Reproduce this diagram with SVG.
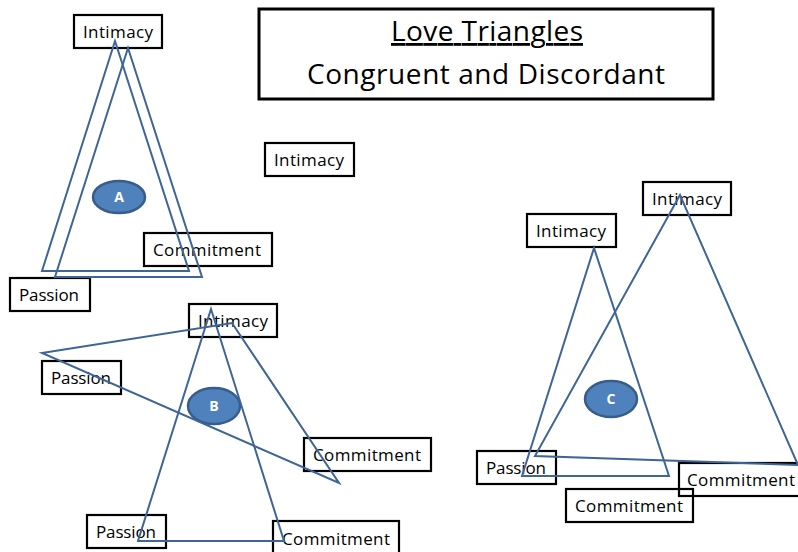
<svg xmlns="http://www.w3.org/2000/svg" width="798" height="552" viewBox="0 0 798 552">
<style>
.box{fill:none;stroke:#000;stroke-width:2.2}
.lbl{font-family:"Open Sans","Liberation Sans",sans-serif;font-size:17px;fill:#000;text-anchor:middle}
.tri{fill:none;stroke:#3d6596;stroke-width:2;stroke-linejoin:miter}
.oval{fill:#4f81bd;stroke:#385d8a;stroke-width:2.5}
.olbl{font-family:"Open Sans","Liberation Sans",sans-serif;font-size:14px;font-weight:bold;fill:#fff;text-anchor:middle}
.title{font-family:"Open Sans","Liberation Sans",sans-serif;font-size:28px;fill:#000;text-anchor:middle}
</style>
<rect width="798" height="552" fill="#fff"/>
<g id="title">
<rect x="259" y="9" width="454" height="90" fill="none" stroke="#000" stroke-width="3"/>
<text class="title" x="487" y="41" text-decoration="underline" textLength="192">Love Triangles</text>
<text class="title" x="486" y="84" textLength="358">Congruent and Discordant</text>
</g>
<g id="nodeA">
<g id="a-intimacy"><rect class="box" x="74" y="15" width="88" height="33"/><text class="lbl" x="118" y="38" textLength="70">Intimacy</text></g>
<g id="a-commitment"><rect class="box" x="144" y="233" width="128" height="33"/><text class="lbl" x="207" y="256" textLength="108">Commitment</text></g>
<g id="a-passion"><rect class="box" x="10" y="278" width="80" height="33"/><text class="lbl" x="49" y="301" textLength="60">Passion</text></g>
<g id="a-oval"><ellipse class="oval" cx="119" cy="197" rx="26" ry="16"/><text class="olbl" x="119" y="202">A</text></g>
</g>
<g id="free-intimacy"><rect class="box" x="265" y="143" width="89" height="33"/><text class="lbl" x="309" y="166" textLength="70">Intimacy</text></g>
<g id="nodeB">
<g id="b-intimacy"><rect class="box" x="189" y="304" width="88" height="33"/><text class="lbl" x="233" y="327" textLength="70">Intimacy</text></g>
<g id="b-passion1"><rect class="box" x="42" y="361" width="79" height="33"/><text class="lbl" x="81" y="384" textLength="60">Passion</text></g>
<g id="b-commitment1"><rect class="box" x="304" y="438" width="127" height="33"/><text class="lbl" x="367" y="461" textLength="108">Commitment</text></g>
<g id="b-passion2"><rect class="box" x="87" y="515" width="79" height="33"/><text class="lbl" x="126" y="538" textLength="60">Passion</text></g>
<g id="b-commitment2"><rect class="box" x="273" y="521" width="126" height="33"/><text class="lbl" x="336" y="545" textLength="108">Commitment</text></g>
<g id="b-oval"><ellipse class="oval" cx="214" cy="406" rx="26" ry="18"/><text class="olbl" x="214" y="411">B</text></g>
</g>
<g id="nodeC">
<g id="c-intimacy1"><rect class="box" x="527" y="214" width="89" height="33"/><text class="lbl" x="571" y="237" textLength="70">Intimacy</text></g>
<g id="c-intimacy2"><rect class="box" x="643" y="182" width="88" height="33"/><text class="lbl" x="687" y="205" textLength="70">Intimacy</text></g>
<g id="c-passion"><rect class="box" x="477" y="451" width="79" height="33"/><text class="lbl" x="516" y="474" textLength="60">Passion</text></g>
<g id="c-commitment1"><rect class="box" x="566" y="489" width="127" height="33"/><text class="lbl" x="629" y="512" textLength="108">Commitment</text></g>
<g id="c-commitment2"><rect class="box" x="679" y="463" width="127" height="33"/><text class="lbl" x="741" y="486" textLength="108">Commitment</text></g>
<g id="c-oval"><ellipse class="oval" cx="611" cy="399" rx="26" ry="18"/><text class="olbl" x="611" y="404">C</text></g>
</g>
<g id="connectors">
<polygon class="tri" points="115,41 42,271 189,271"/>
<polygon class="tri" points="128,48 55,277 202,277"/>
<polygon class="tri" points="211,309 138,541 284,541"/>
<polygon class="tri" points="42,353 232,323 339,483"/>
<polygon class="tri" points="594,248 522,476 669,476"/>
<polygon class="tri" points="680,195 535,456 798,465"/>
</g>
</svg>
